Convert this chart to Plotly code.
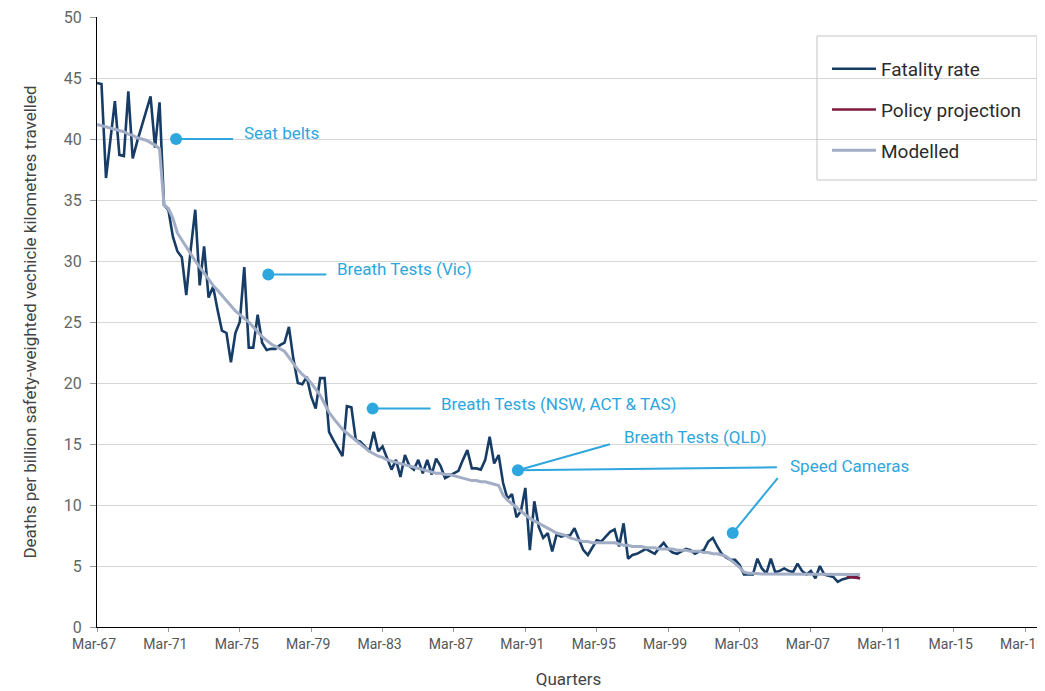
import pandas as pd
import plotly.graph_objects as go

# ---------------- data ----------------
start_quarter = "1967-03-01"

fatality_rate = [
    44.6, 44.5, 36.8, 40.0, 43.1, 38.7, 38.6, 43.9, 38.4, 39.8,
    41.0, 42.3, 43.5, 39.3, 43.0, 34.6, 34.2, 32.0, 30.8, 30.3,
    27.2, 31.0, 34.2, 28.0, 31.2, 27.0, 27.9, 26.0, 24.3, 24.1,
    21.7, 24.1, 25.0, 29.5, 22.9, 22.9, 25.6, 23.3, 22.7, 22.8,
    22.8, 23.1, 23.3, 24.6, 22.0, 20.0, 19.9, 20.5, 18.9, 17.9,
    20.4, 20.4, 16.0, 15.3, 14.6, 14.0, 18.1, 18.0, 15.3, 15.2,
    14.8, 14.4, 16.0, 14.4, 14.8, 13.8, 12.9, 13.7, 12.3, 14.1,
    13.2, 12.9, 13.7, 12.6, 13.7, 12.5, 13.8, 13.2, 12.2, 12.4,
    12.6, 12.8, 13.7, 14.5, 13.0, 13.0, 12.9, 13.7, 15.6, 13.4,
    14.1, 11.8, 10.5, 10.9, 9.0, 9.5, 11.4, 6.3, 10.3, 8.2,
    7.3, 7.7, 6.2, 7.6, 7.4, 7.5, 7.5, 8.1, 7.2, 6.3,
    5.9, 6.5, 7.1, 7.0, 7.4, 7.8, 8.0, 6.6, 8.5, 5.6,
    5.9, 6.0, 6.2, 6.4, 6.2, 6.0, 6.5, 6.9, 6.4, 6.1,
    6.0, 6.2, 6.4, 6.3, 6.0, 6.2, 6.3, 7.0, 7.3, 6.6,
    6.0, 5.7, 5.5, 5.5, 5.1, 4.3, 4.3, 4.3, 5.6, 4.8,
    4.4, 5.6, 4.5, 4.6, 4.8, 4.6, 4.5, 5.2, 4.6, 4.3,
    4.6, 4.0, 5.0, 4.3, 4.2, 4.1, 3.7, 3.9, 4.0, 4.1,
    4.1, 4.0,
]

modelled = [
    41.2, 41.1, 41.0, 40.9, 40.8, 40.7, 40.6, 40.4, 40.3, 40.1,
    40.0, 39.9, 39.7, 39.5, 39.2, 34.6, 34.3, 33.5, 32.3, 31.7,
    31.1, 30.5, 30.0, 29.5, 29.0, 28.5, 28.0, 27.6, 27.2, 26.7,
    26.3, 25.9, 25.6, 25.3, 25.0, 24.6, 24.2, 23.8, 23.5, 23.2,
    23.0, 22.8, 22.6, 22.1, 21.6, 21.1, 20.7, 20.4, 20.0, 19.5,
    19.0, 18.3, 17.6, 17.1, 16.6, 16.2, 15.9, 15.6, 15.3, 15.0,
    14.7, 14.4, 14.2, 14.0, 13.9, 13.7, 13.6, 13.5, 13.4, 13.3,
    13.2, 13.1, 13.0, 12.9, 12.8, 12.7, 12.6, 12.6, 12.5, 12.5,
    12.4, 12.3, 12.2, 12.1, 12.0, 12.0, 11.9, 11.9, 11.8, 11.7,
    11.6, 10.8, 10.4, 10.1, 9.8, 9.5, 9.2, 8.9, 8.7, 8.5,
    8.3, 8.1, 7.9, 7.7, 7.6, 7.5, 7.3, 7.2, 7.1, 7.0,
    7.0, 6.9, 6.9, 6.9, 6.9, 6.9, 6.9, 6.8, 6.7, 6.7,
    6.6, 6.6, 6.6, 6.5, 6.5, 6.5, 6.4, 6.4, 6.4, 6.4,
    6.3, 6.3, 6.3, 6.2, 6.2, 6.2, 6.1, 6.1, 6.0, 6.0,
    5.9, 5.8, 5.5, 5.2, 4.9, 4.5, 4.4, 4.4, 4.35, 4.35,
    4.35, 4.35, 4.35, 4.3, 4.3, 4.3, 4.3, 4.3, 4.3, 4.3,
    4.3, 4.3, 4.3, 4.3, 4.3, 4.3, 4.3, 4.3, 4.3, 4.3,
    4.3, 4.3,
]

policy_projection = [4.1, 4.1, 4.05, 4.0]

series_names = ["Fatality rate", "Policy projection", "Modelled"]

policy_labels = [
    "Seat belts",
    "Breath Tests (Vic)",
    "Breath Tests (NSW, ACT & TAS)",
    "Breath Tests (QLD)",
    "Speed Cameras",
]
policy_dates = ["1971-08-05", "1976-10-05", "1982-08-10", "1990-09-30", "2002-10-13"]
policy_values = [40.0, 28.9, 17.9, 12.85, 7.7]

tick_start = "1967-03-01"
axis_end = "2020-01-01"

# ---------------- styling ----------------
FONT = "Roboto, Liberation Sans, sans-serif"
C_FATAL = "#173c66"
C_POLICY = "#7c1a3c"
C_MODEL = "#a2adc6"
C_ANNOT = "#2ea6de"

# page body has an 8px default margin: compensate so the plot area sits where the reference's does
BODY = 8
W, H = 1045 - BODY, 691 - BODY
M_L, M_T, M_R = 97 - BODY, 17 - BODY, 5
M_B = H - M_T - 610

# text offsets (px) relative to the marker, and leader lines (marker index, dx, dy)
text_offsets = [(66, 6), (67, 5), (66, 5), (104, 33), (55, 67)]
leader_lines = [
    (0, 57, 0),
    (1, 58, 0),
    (2, 58, 0),
    (3, 92, 26),
    (4, 45, 55),
    (3, 259, 3),
]

quarters = pd.date_range(start_quarter, periods=len(fatality_rate), freq="3MS")
policy_quarters = quarters[-len(policy_projection):]

fig = go.Figure()
fig.add_trace(go.Scatter(
    x=quarters, y=fatality_rate, mode="lines", name=series_names[0],
    line=dict(color=C_FATAL, width=2.6), legendgroup="a",
))
fig.add_trace(go.Scatter(
    x=policy_quarters, y=policy_projection, mode="lines", name=series_names[1],
    line=dict(color=C_POLICY, width=2.6), legendgroup="b",
))
fig.add_trace(go.Scatter(
    x=quarters, y=modelled, mode="lines", name=series_names[2],
    line=dict(color=C_MODEL, width=3), legendgroup="c",
))
fig.add_trace(go.Scatter(
    x=policy_dates, y=policy_values, mode="markers", showlegend=False,
    marker=dict(color=C_ANNOT, size=12), hoverinfo="skip", cliponaxis=False,
))

shapes = []
for idx, dx, dy in leader_lines:
    shapes.append(dict(
        type="line", xref="x", yref="y",
        xsizemode="pixel", ysizemode="pixel",
        xanchor=policy_dates[idx], yanchor=policy_values[idx],
        x0=0, x1=dx, y0=0, y1=dy,
        line=dict(color=C_ANNOT, width=2),
    ))
# legend frame
shapes.append(dict(
    type="rect", xref="paper", yref="paper",
    x0=0.7635, x1=0.9968, y0=0.7328, y1=0.9689,
    line=dict(color="#c4c4c4", width=1), fillcolor="rgba(0,0,0,0)", layer="above",
))

annotations = []
for label, d, v, (xs, ys) in zip(policy_labels, policy_dates, policy_values, text_offsets):
    annotations.append(dict(
        x=d, y=v, xref="x", yref="y", text=label, showarrow=False,
        xanchor="left", yanchor="middle", xshift=xs, yshift=ys,
        font=dict(family=FONT, size=17, color=C_ANNOT),
    ))

fig.update_layout(
    width=W, height=H,
    margin=dict(l=M_L, r=M_R, t=M_T, b=M_B),
    paper_bgcolor="white", plot_bgcolor="white",
    font=dict(family=FONT, color="#444444"),
    shapes=shapes, annotations=annotations,
    legend=dict(
        x=0.7741, y=0.946, xanchor="left", yanchor="top",
        bgcolor="rgba(0,0,0,0)", borderwidth=0,
        font=dict(family=FONT, size=19, color="#2b2b2b"),
        tracegroupgap=13, itemwidth=44,
    ),
    showlegend=True,
)
fig.update_xaxes(
    type="date", range=[tick_start, axis_end], automargin=False,
    tick0=tick_start, dtick="M48", tickformat="%b-%y",
    ticks="outside", ticklen=4, tickcolor="#999999",
    ticklabeloverflow="allow", ticklabelshift=-3,
    showline=True, linecolor="#000000", linewidth=1,
    showgrid=False, zeroline=False,
    tickfont=dict(family=FONT, size=14, color="#555555"),
    title=dict(text="Quarters", font=dict(family=FONT, size=17, color="#444444"), standoff=22),
)
fig.update_yaxes(
    range=[0, 50], dtick=5, tick0=0, automargin=False,
    ticks="outside", ticklen=6, tickcolor="#999999",
    ticklabeloverflow="allow", ticklabelstandoff=5,
    showline=True, linecolor="#000000", linewidth=1,
    showgrid=True, gridcolor="#d6d6d6", gridwidth=1, zeroline=False,
    tickfont=dict(family=FONT, size=16, color="#666666"),
    title=dict(text="Deaths per billion safety-weighted vechicle kilometres travelled",
               font=dict(family=FONT, size=17, color="#444444"), standoff=22),
)

fig.write_html("out.html")
